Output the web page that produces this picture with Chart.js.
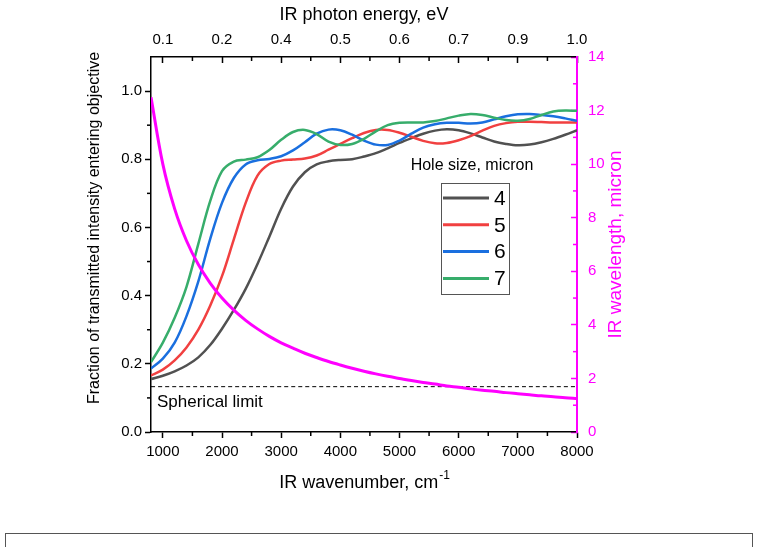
<!DOCTYPE html>
<html>
<head>
<meta charset="utf-8">
<script src="https://cdn.jsdelivr.net/npm/chart.js@4.4.0/dist/chart.umd.min.js"></script>
<style>
body { margin: 0; background: #fff; overflow: hidden; }
#wrap { position: relative; width: 760px; height: 547px; overflow: hidden; }
#frame { position: absolute; left: 5px; top: 533px; width: 746px; height: 40px; border: 1px solid #555; }
</style>
</head>
<body>
<div id="wrap">
<canvas id="myChart" width="760" height="547"></canvas>
<div id="frame"></div>
</div>
<script>
// IR wavenumber, cm-1
const wavenumber = [800, 1000, 1200, 1400, 1600, 1800, 2000, 2200, 2400, 2600, 2800, 3000, 3200, 3400, 3600, 3800,
    4000, 4200, 4400, 4600, 4800, 5000, 5200, 5400, 5600, 5800, 6000, 6200, 6400, 6600, 6800, 7000, 7200, 7400, 7600, 7800, 8000];

// fraction of transmitted intensity, one list per hole size
const hole4 = [0.155, 0.165, 0.178, 0.195, 0.219, 0.255, 0.303, 0.358, 0.42, 0.493, 0.573, 0.655, 0.72, 0.762, 0.785, 0.794,
    0.798, 0.800, 0.808, 0.818, 0.832, 0.848, 0.862, 0.875, 0.884, 0.888, 0.885, 0.876, 0.864, 0.852, 0.845, 0.841, 0.843, 0.85, 0.86, 0.872, 0.885];
const hole5 = [0.166, 0.183, 0.21, 0.248, 0.30, 0.37, 0.457, 0.565, 0.672, 0.752, 0.786, 0.796, 0.799, 0.802, 0.811, 0.828,
    0.845, 0.862, 0.877, 0.886, 0.886, 0.878, 0.866, 0.854, 0.847, 0.848, 0.856, 0.868, 0.884, 0.898, 0.906, 0.91, 0.91, 0.909, 0.908, 0.908, 0.908];
const hole6 = [0.186, 0.215, 0.262, 0.34, 0.442, 0.566, 0.672, 0.745, 0.785, 0.797, 0.801, 0.809, 0.826, 0.85, 0.875, 0.887,
    0.885, 0.872, 0.855, 0.843, 0.842, 0.855, 0.875, 0.893, 0.903, 0.907, 0.907, 0.905, 0.908, 0.917, 0.926, 0.932, 0.933, 0.93, 0.926, 0.92, 0.913];
const hole7 = [0.205, 0.262, 0.335, 0.426, 0.552, 0.677, 0.765, 0.793, 0.799, 0.806, 0.827, 0.857, 0.88, 0.886, 0.874, 0.852,
    0.842, 0.845, 0.86, 0.882, 0.90, 0.907, 0.908, 0.908, 0.912, 0.92, 0.928, 0.933, 0.93, 0.922, 0.915, 0.913, 0.918, 0.93, 0.94, 0.943, 0.942];

// IR wavelength, micron (right axis)
const wavelength = [12.5, 10.0, 8.33, 7.14, 6.25, 5.56, 5.0, 4.55, 4.17, 3.85, 3.57, 3.33, 3.13, 2.94, 2.78, 2.63,
    2.5, 2.38, 2.27, 2.17, 2.08, 2.0, 1.92, 1.85, 1.79, 1.72, 1.67, 1.61, 1.56, 1.52, 1.47, 1.43, 1.39, 1.35, 1.32, 1.28, 1.25];

const sphericalLimit = 0.133;
const holeSizes = ['4', '5', '6', '7'];
const holeColors = ['#515151', '#F14040', '#1A6FDF', '#37AD6B'];

const bottomTicks = [1000, 2000, 3000, 4000, 5000, 6000, 7000, 8000];
const bottomMinor = [1500, 2500, 3500, 4500, 5500, 6500, 7500];
const topTickLabels = ['0.1', '0.2', '0.4', '0.5', '0.6', '0.7', '0.9', '1.0'];
const leftTicks = [0, 0.2, 0.4, 0.6, 0.8, 1.0];
const leftMinor = [0.1, 0.3, 0.5, 0.7, 0.9];
const rightTicks = [0, 2, 4, 6, 8, 10, 12, 14];
const rightMinor = [1, 3, 5, 7, 9, 11, 13];

const FONT = '"Liberation Sans", Arial, sans-serif';
const MAGENTA = '#FF00FF';
Chart.defaults.font.family = FONT;

function pts(ys) {
    return wavenumber.map((x, i) => ({x: x, y: ys[i]}));
}

function seg(c, x1, y1, x2, y2) {
    c.beginPath();
    c.moveTo(x1, y1);
    c.lineTo(x2, y2);
    c.stroke();
}

// short ticks between the labelled ones
const minorTicks = {
    id: 'minorTicks',
    afterDraw(chart) {
        const c = chart.ctx, a = chart.chartArea, s = chart.scales;
        c.save();
        c.lineWidth = 1.5;
        c.strokeStyle = '#000';
        bottomMinor.forEach(v => {
            const px = s.x.getPixelForValue(v);
            seg(c, px, a.bottom, px, a.bottom + 4);
            seg(c, px, a.top, px, a.top + 4);
        });
        leftMinor.forEach(v => {
            const py = s.y.getPixelForValue(v);
            seg(c, a.left, py, a.left - 4, py);
        });
        c.strokeStyle = MAGENTA;
        rightMinor.forEach(v => {
            const py = s.y2.getPixelForValue(v);
            seg(c, a.right, py, a.right - 4, py);
        });
        c.restore();
    }
};

// axis titles, legend and the note
const labels = {
    id: 'labels',
    afterDraw(chart) {
        const c = chart.ctx, a = chart.chartArea, s = chart.scales;
        const cx = (a.left + a.right) / 2;
        c.save();
        c.fillStyle = '#000';
        c.textBaseline = 'middle';

        c.textAlign = 'center';
        c.font = '18px ' + FONT;
        c.fillText('IR photon energy, eV', cx, 15);

        // bottom title with superscript
        const main = 'IR wavenumber, cm', sup = '-1';
        const w1 = c.measureText(main).width;
        c.font = '12px ' + FONT;
        const w2 = c.measureText(sup).width;
        const x0 = cx - (w1 + w2) / 2;
        c.textAlign = 'left';
        c.font = '18px ' + FONT;
        c.fillText(main, x0, 483);
        c.font = '12px ' + FONT;
        c.fillText(sup, x0 + w1 + 1, 476);

        c.textAlign = 'center';
        c.save();
        c.translate(95, 228);
        c.rotate(-Math.PI / 2);
        c.font = '16px ' + FONT;
        c.fillText('Fraction of transmitted intensity entering objective', 0, 0);
        c.restore();

        c.save();
        c.translate(616, (a.top + a.bottom) / 2);
        c.rotate(-Math.PI / 2);
        c.font = '19px ' + FONT;
        c.fillStyle = MAGENTA;
        c.fillText('IR wavelength, micron', 0, 0);
        c.restore();

        c.textAlign = 'left';
        c.font = '17px ' + FONT;
        c.fillText('Spherical limit', a.left + 6, s.y.getPixelForValue(sphericalLimit) + 16);

        // legend
        c.textAlign = 'center';
        c.font = '16px ' + FONT;
        c.fillText('Hole size, micron', 472, 166);
        c.strokeStyle = '#555';
        c.lineWidth = 1;
        c.strokeRect(441.5, 183.5, 68, 111);
        c.textAlign = 'left';
        c.font = '21px ' + FONT;
        holeSizes.forEach((h, i) => {
            const y = 198 + i * 26.8;
            c.strokeStyle = holeColors[i];
            c.lineWidth = 3;
            seg(c, 443, y, 489, y);
            c.fillStyle = '#000';
            c.fillText(h, 494, y + 1);
        });
        c.restore();
    }
};

const datasets = holeSizes.map((h, i) => ({
    label: h,
    data: pts([hole4, hole5, hole6, hole7][i]),
    borderColor: holeColors[i],
    borderWidth: 2.5,
    yAxisID: 'y',
    order: 4 - i
}));
datasets.push({
    label: 'IR wavelength',
    data: pts(wavelength),
    borderColor: MAGENTA,
    borderWidth: 3,
    yAxisID: 'y2',
    order: 0
});
datasets.push({
    label: 'Spherical limit',
    data: [{x: wavenumber[0], y: sphericalLimit}, {x: wavenumber[wavenumber.length - 1], y: sphericalLimit}],
    borderColor: '#000',
    borderWidth: 1,
    borderDash: [4, 3],
    yAxisID: 'y',
    order: 5
});

const tickFont = {size: 15, family: FONT};

const ctx = document.getElementById('myChart').getContext('2d');
const myChart = new Chart(ctx, {
    type: 'line',
    data: {datasets: datasets},
    options: {
        responsive: false,
        animation: false,
        devicePixelRatio: 1,
        layout: {padding: 0},
        elements: {
            point: {radius: 0},
            line: {tension: 0.35, fill: false}
        },
        plugins: {legend: {display: false}, tooltip: {enabled: false}},
        scales: {
            x: {
                type: 'linear',
                position: 'bottom',
                min: 800,
                max: 8000,
                afterBuildTicks: s => { s.ticks = bottomTicks.map(v => ({value: v})); },
                afterFit: s => { s.height = 115; },
                ticks: {font: tickFont, color: '#000', padding: 5, maxRotation: 0, autoSkip: false, callback: v => String(v)},
                grid: {drawOnChartArea: false, tickLength: 6, tickWidth: 1.5, color: '#000'},
                border: {color: '#000', width: 1.5}
            },
            x2: {
                type: 'linear',
                position: 'top',
                min: 800,
                max: 8000,
                afterBuildTicks: s => { s.ticks = bottomTicks.map(v => ({value: v})); },
                afterFit: s => { s.height = 57; },
                ticks: {font: tickFont, color: '#000', padding: 14, maxRotation: 0, autoSkip: false,
                    callback: (v, i) => topTickLabels[i]},
                grid: {drawOnChartArea: false, tickLength: -6, tickWidth: 1.5, color: '#000'},
                border: {color: '#000', width: 1.5}
            },
            y: {
                type: 'linear',
                position: 'left',
                min: 0,
                max: 1.1,
                afterBuildTicks: s => { s.ticks = leftTicks.map(v => ({value: v})); },
                afterFit: s => { s.width = 151; },
                ticks: {font: tickFont, color: '#000', padding: 3, callback: v => v.toFixed(1)},
                grid: {drawOnChartArea: false, tickLength: 6, tickWidth: 1.5, color: '#000'},
                border: {color: '#000', width: 1.5}
            },
            y2: {
                type: 'linear',
                position: 'right',
                min: 0,
                max: 14,
                afterBuildTicks: s => { s.ticks = rightTicks.map(v => ({value: v})); },
                afterFit: s => { s.width = 183; },
                ticks: {font: tickFont, color: MAGENTA, padding: 17, callback: v => String(v)},
                grid: {drawOnChartArea: false, tickLength: -6, tickWidth: 1.5, color: MAGENTA},
                border: {color: MAGENTA, width: 2}
            }
        }
    },
    plugins: [minorTicks, labels]
});
</script>
</body>
</html>
